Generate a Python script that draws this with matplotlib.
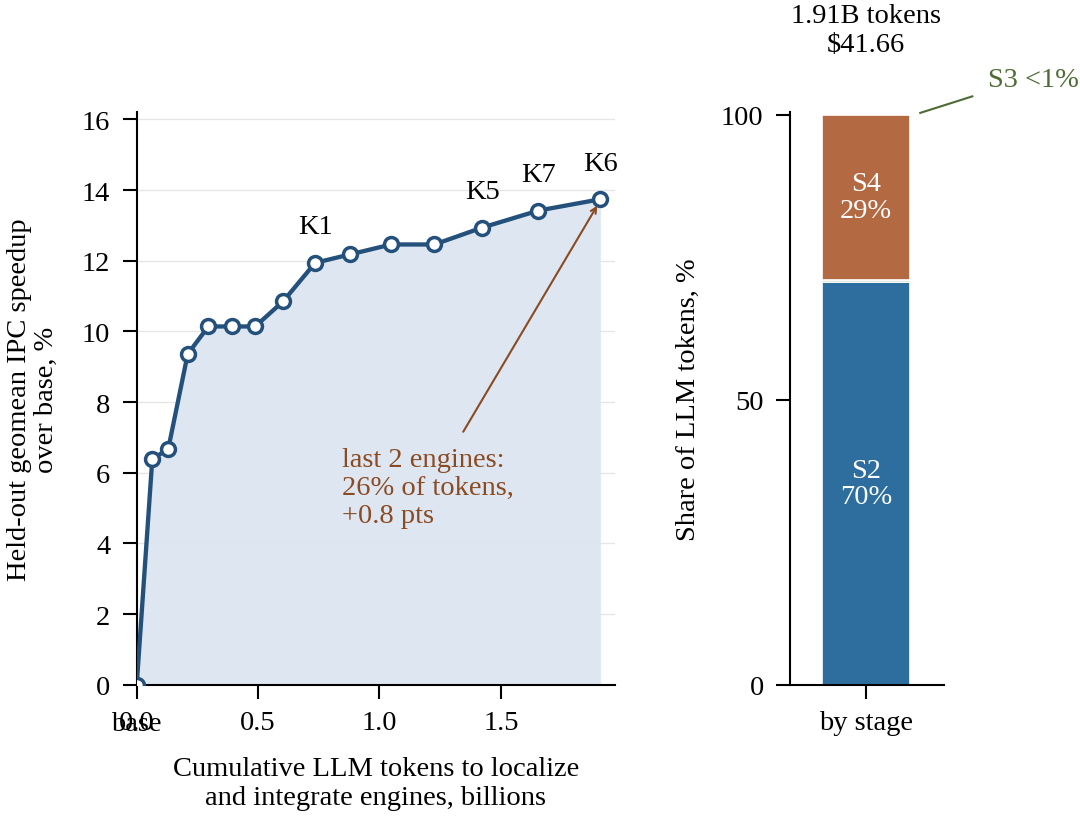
import numpy as np
import matplotlib.pyplot as plt

plt.rcParams['font.family'] = ['Liberation Serif', 'DejaVu Serif']

# cumulative tokens (billions) and held-out speedup (%)
tokens = [0.0, 0.064, 0.130, 0.210, 0.295, 0.393, 0.488, 0.603, 0.735, 0.879, 1.048, 1.226, 1.424, 1.655, 1.91]
speedup = [0.0, 6.38, 6.68, 9.36, 10.14, 10.14, 10.14, 10.85, 11.94, 12.18, 12.46, 12.46, 12.94, 13.42, 13.74]
engine_labels = {8: 'K1', 12: 'K5', 13: 'K7', 14: 'K6'}

# token share by stage
stages = ['S2', 'S3', 'S4']
shares = [70.6, 0.4, 29.0]
stage_colors = ['#2e6e9e', '#5a7d3a', '#b36a42']

blue = '#24507c'
brown = '#8a4a22'
green = '#4f6b35'
fs = 20.5

fig = plt.figure(figsize=(10.8, 8.2), dpi=100)
ax = fig.add_axes([0.1266, 0.1637, 0.4428, 0.6981])
ax2 = fig.add_axes([0.7315, 0.1637, 0.1426, 0.6981])

# left: speedup vs tokens
ax.fill_between(tokens, speedup, 0, color='#dbe5f0', alpha=0.9, lw=0, zorder=1)
ax.plot(tokens, speedup, color=blue, lw=3.1, marker='o', ms=10, mfc='white',
        mec=blue, mew=2.5, zorder=3)
for i, lab in engine_labels.items():
    ax.annotate(lab, (tokens[i], speedup[i]), xytext=(0, 26), textcoords='offset points',
                ha='center', va='center', fontsize=fs)
ax.text(0.846, 6.72, 'last 2 engines:\n26% of tokens,\n+0.8 pts', ha='left', va='top',
        fontsize=fs, color=brown, linespacing=1.15)
ax.annotate('', xy=(1.897, 13.56), xytext=(1.345, 7.16),
            arrowprops=dict(arrowstyle='->', color=brown, lw=1.5, shrinkA=0, shrinkB=0))

ax.set_xlim(0, 1.97)
ax.set_ylim(0, 16.2)
ax.set_yticks(range(0, 17, 2))
ax.set_xticks([0, 0.5, 1.0, 1.5])
ax.set_xticklabels(['0.0', '0.5', '1.0', '1.5'])
ax.annotate('base', xy=(0, 0), xycoords=('data', 'axes fraction'), xytext=(0, -19),
            textcoords='offset points', ha='center', va='top', fontsize=fs)
ax.grid(axis='y', color='#e6e6e6', lw=1)
ax.set_axisbelow(True)
for s in ['top', 'right']:
    ax.spines[s].set_visible(False)
for s in ['left', 'bottom']:
    ax.spines[s].set_linewidth(1.5)
ax.tick_params(labelsize=fs, width=1.5, length=10)
ax.tick_params(axis='y', pad=9)
ax.tick_params(axis='x', pad=8)
ax.set_xlabel('Cumulative LLM tokens to localize\nand integrate engines, billions', fontsize=fs,
              linespacing=1.2)
ax.xaxis.set_label_coords(0.5, -0.124)
ax.set_ylabel('Held-out geomean IPC speedup\nover base, %', fontsize=fs, linespacing=1.1)
ax.yaxis.set_label_coords(-0.163, 0.5)

# right: stacked share bar
bottom = 0
for st, v, c in zip(stages, shares, stage_colors):
    ax2.bar(0, v, width=0.6, bottom=bottom, color=c, edgecolor='white', lw=1.2)
    if v > 5:
        ax2.text(0, bottom + v / 2, f'{st}\n{int(v)}%', ha='center', va='center',
                 color='white', fontsize=fs, linespacing=1.1)
    bottom += v
ax2.plot([0.368, 0.723], [100.3, 103.2], color=green, lw=1.5, clip_on=False)
ax2.text(0.83, 106.2, 'S3 <1%', ha='left', va='center', fontsize=fs, color=green)
fig.text(0.8019, 0.9625, '1.91B tokens\n$41.66', ha='center', va='center', fontsize=fs,
         linespacing=1.2)
ax2.set_xlim(-0.52, 0.53)
ax2.set_ylim(0, 100.4)
ax2.set_yticks([0, 50, 100])
ax2.set_xticks([0])
ax2.set_xticklabels(['by stage'])
for s in ['top', 'right']:
    ax2.spines[s].set_visible(False)
for s in ['left', 'bottom']:
    ax2.spines[s].set_linewidth(1.5)
ax2.tick_params(labelsize=fs, width=1.5, length=10)
ax2.tick_params(axis='y', pad=9)
ax2.tick_params(axis='x', pad=8)
ax2.set_ylabel('Share of LLM tokens, %', fontsize=fs)
ax2.yaxis.set_label_coords(-0.58, 0.5)

fig.savefig('out.png', dpi=100)
